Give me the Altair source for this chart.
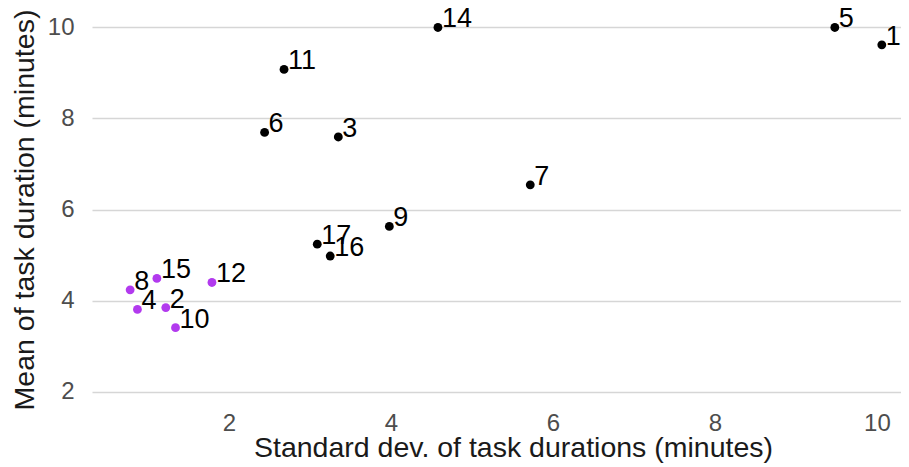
import altair as alt
import pandas as pd

task = ["2", "3", "4", "5", "6", "7", "8", "9", "10", "11", "12", "13", "14", "15", "16", "17"]
sd = [1.22, 3.35, 0.87, 9.48, 2.44, 5.72, 0.78, 3.98, 1.34, 2.68, 1.79, 10.06, 4.58, 1.11, 3.25, 3.09]
mean = [3.85, 7.59, 3.81, 9.99, 7.69, 6.54, 4.24, 5.63, 3.41, 9.07, 4.40, 9.61, 9.99, 4.49, 4.98, 5.24]
group = ["low", "high", "low", "high", "high", "high", "low", "high", "low", "high", "low", "high", "high", "low", "high", "high"]

df = pd.DataFrame({"task": task, "sd": sd, "mean": mean, "group": group})

FONT = "Liberation Sans"

x = alt.X("sd:Q", scale=alt.Scale(domain=[0.309, 10.297], nice=False, zero=False),
          axis=alt.Axis(title="Standard dev. of task durations (minutes)", values=[2, 4, 6, 8, 10],
                        grid=False, domain=False, ticks=False, tickSize=0, labelPadding=1,
                        labelFontSize=24, labelColor="#4d4d4d", labelFont=FONT,
                        titleFont=FONT, titleFontSize=28.5, titleFontWeight="normal", titleColor="#1a1a1a",
                        titleBaseline="alphabetic", titleY=46, titleX=421, titleAlign="center"))
y = alt.Y("mean:Q", scale=alt.Scale(domain=[1.605, 10.395], nice=False, zero=False),
          axis=alt.Axis(title="Mean of task duration (minutes)", values=[2, 4, 6, 8, 10],
                        grid=True, gridColor="#d6d6d6", gridWidth=1.6, domain=False, ticks=False, tickSize=0,
                        labelPadding=18, labelFontSize=24, labelColor="#4d4d4d", labelFont=FONT,
                        titleFont=FONT, titleFontSize=28.5, titleFontWeight="normal", titleColor="#1a1a1a",
                        titleBaseline="alphabetic", titleX=-59, titleAngle=270))
color = alt.Color("group:N", scale=alt.Scale(domain=["high", "low"], range=["#000000", "#b23aee"]), legend=None)

points = alt.Chart(df).mark_circle(size=78, opacity=1).encode(x=x, y=y, color=color)
labels = alt.Chart(df).mark_text(align="left", baseline="alphabetic", dx=4, dy=0, fontSize=27,
                                 font=FONT, color="#000000").encode(x=x, y=y, text="task:N")

chart = (points + labels).properties(
    width=809, height=401,
    autosize=alt.AutoSizeParams(type="none"),
    padding={"left": 84, "top": 1, "right": 0, "bottom": 57},
).configure_view(stroke=None)

chart.save("out.html", embed_options={"renderer": "svg", "actions": False})
